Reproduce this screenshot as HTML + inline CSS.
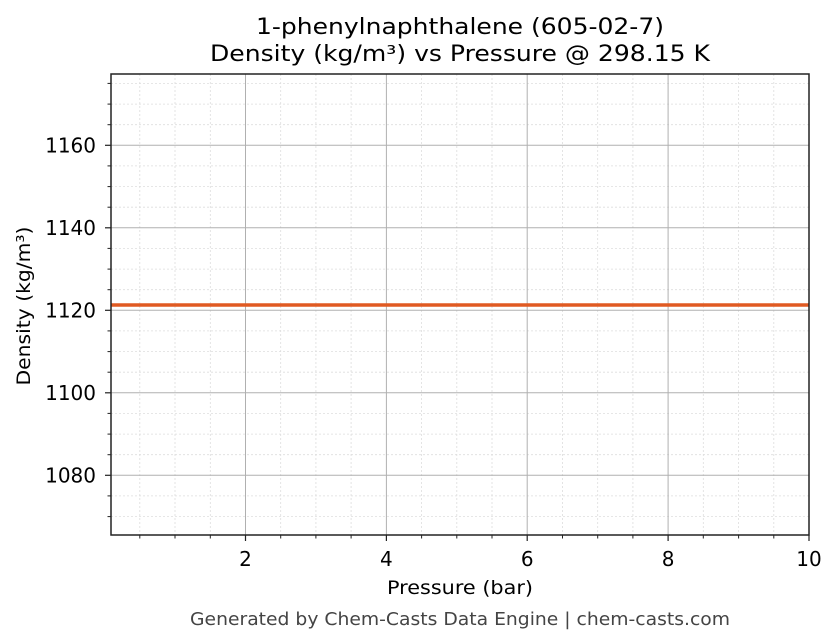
<!DOCTYPE html>
<html><head><meta charset="utf-8"><style>
html,body{margin:0;padding:0;background:#fff;}
svg{display:block;font-family:"DejaVu Sans","Liberation Sans",sans-serif;}
</style></head><body>
<svg width="836" height="644" viewBox="0 0 836 644" xmlns="http://www.w3.org/2000/svg">
<rect width="836" height="644" fill="#fff"/>
<text x="460" y="34" font-size="22" text-anchor="middle" textLength="408" lengthAdjust="spacingAndGlyphs">1-phenylnaphthalene (605-02-7)</text>
<text x="460" y="61" font-size="22" text-anchor="middle" textLength="500" lengthAdjust="spacingAndGlyphs">Density (kg/m³) vs Pressure @ 298.15 K</text>
<g stroke="#ddd" stroke-width="0.8" stroke-dasharray="2,2">
<line x1="139.8" y1="74" x2="139.8" y2="535"/><line x1="175" y1="74" x2="175" y2="535"/><line x1="210.3" y1="74" x2="210.3" y2="535"/>
<line x1="280.7" y1="74" x2="280.7" y2="535"/><line x1="315.9" y1="74" x2="315.9" y2="535"/><line x1="351.1" y1="74" x2="351.1" y2="535"/>
<line x1="421.6" y1="74" x2="421.6" y2="535"/><line x1="456.8" y1="74" x2="456.8" y2="535"/><line x1="492" y1="74" x2="492" y2="535"/>
<line x1="562.5" y1="74" x2="562.5" y2="535"/><line x1="597.7" y1="74" x2="597.7" y2="535"/><line x1="632.9" y1="74" x2="632.9" y2="535"/>
<line x1="703.3" y1="74" x2="703.3" y2="535"/><line x1="738.6" y1="74" x2="738.6" y2="535"/><line x1="773.8" y1="74" x2="773.8" y2="535"/>
<line x1="111" y1="83.4" x2="809" y2="83.4"/><line x1="111" y1="104.1" x2="809" y2="104.1"/><line x1="111" y1="124.7" x2="809" y2="124.7"/>
<line x1="111" y1="165.9" x2="809" y2="165.9"/><line x1="111" y1="186.6" x2="809" y2="186.6"/><line x1="111" y1="207.2" x2="809" y2="207.2"/>
<line x1="111" y1="248.4" x2="809" y2="248.4"/><line x1="111" y1="269.1" x2="809" y2="269.1"/><line x1="111" y1="289.7" x2="809" y2="289.7"/>
<line x1="111" y1="330.9" x2="809" y2="330.9"/><line x1="111" y1="351.6" x2="809" y2="351.6"/><line x1="111" y1="372.2" x2="809" y2="372.2"/>
<line x1="111" y1="413.4" x2="809" y2="413.4"/><line x1="111" y1="434.1" x2="809" y2="434.1"/><line x1="111" y1="454.7" x2="809" y2="454.7"/>
<line x1="111" y1="495.9" x2="809" y2="495.9"/><line x1="111" y1="516.6" x2="809" y2="516.6"/>
</g>
<g stroke="#b0b0b0" stroke-width="1">
<line x1="245.5" y1="74" x2="245.5" y2="535"/><line x1="386.4" y1="74" x2="386.4" y2="535"/><line x1="527.2" y1="74" x2="527.2" y2="535"/><line x1="668.1" y1="74" x2="668.1" y2="535"/>
<line x1="111" y1="145.3" x2="809" y2="145.3"/><line x1="111" y1="227.8" x2="809" y2="227.8"/><line x1="111" y1="310.3" x2="809" y2="310.3"/><line x1="111" y1="392.8" x2="809" y2="392.8"/><line x1="111" y1="475.3" x2="809" y2="475.3"/>
</g>
<line x1="111" y1="305" x2="809" y2="305" stroke="#e05a22" stroke-width="3.5"/>
<rect x="111" y="74" width="698" height="461" fill="none" stroke="#222" stroke-width="1.5"/>
<g stroke="#222" stroke-width="1.2">
<line x1="245.5" y1="535" x2="245.5" y2="541"/><line x1="386.4" y1="535" x2="386.4" y2="541"/><line x1="527.2" y1="535" x2="527.2" y2="541"/><line x1="668.1" y1="535" x2="668.1" y2="541"/><line x1="809" y1="535" x2="809" y2="541"/>
<line x1="105" y1="145.3" x2="111" y2="145.3"/><line x1="105" y1="227.8" x2="111" y2="227.8"/><line x1="105" y1="310.3" x2="111" y2="310.3"/><line x1="105" y1="392.8" x2="111" y2="392.8"/><line x1="105" y1="475.3" x2="111" y2="475.3"/>
</g>
<g stroke="#222" stroke-width="1">
<line x1="139.8" y1="535" x2="139.8" y2="538.5"/><line x1="175" y1="535" x2="175" y2="538.5"/><line x1="210.3" y1="535" x2="210.3" y2="538.5"/>
<line x1="280.7" y1="535" x2="280.7" y2="538.5"/><line x1="315.9" y1="535" x2="315.9" y2="538.5"/><line x1="351.1" y1="535" x2="351.1" y2="538.5"/>
<line x1="421.6" y1="535" x2="421.6" y2="538.5"/><line x1="456.8" y1="535" x2="456.8" y2="538.5"/><line x1="492" y1="535" x2="492" y2="538.5"/>
<line x1="562.5" y1="535" x2="562.5" y2="538.5"/><line x1="597.7" y1="535" x2="597.7" y2="538.5"/><line x1="632.9" y1="535" x2="632.9" y2="538.5"/>
<line x1="703.3" y1="535" x2="703.3" y2="538.5"/><line x1="738.6" y1="535" x2="738.6" y2="538.5"/><line x1="773.8" y1="535" x2="773.8" y2="538.5"/>
<line x1="107.5" y1="83.4" x2="111" y2="83.4"/><line x1="107.5" y1="104.1" x2="111" y2="104.1"/><line x1="107.5" y1="124.7" x2="111" y2="124.7"/>
<line x1="107.5" y1="165.9" x2="111" y2="165.9"/><line x1="107.5" y1="186.6" x2="111" y2="186.6"/><line x1="107.5" y1="207.2" x2="111" y2="207.2"/>
<line x1="107.5" y1="248.4" x2="111" y2="248.4"/><line x1="107.5" y1="269.1" x2="111" y2="269.1"/><line x1="107.5" y1="289.7" x2="111" y2="289.7"/>
<line x1="107.5" y1="330.9" x2="111" y2="330.9"/><line x1="107.5" y1="351.6" x2="111" y2="351.6"/><line x1="107.5" y1="372.2" x2="111" y2="372.2"/>
<line x1="107.5" y1="413.4" x2="111" y2="413.4"/><line x1="107.5" y1="434.1" x2="111" y2="434.1"/><line x1="107.5" y1="454.7" x2="111" y2="454.7"/>
<line x1="107.5" y1="495.9" x2="111" y2="495.9"/><line x1="107.5" y1="516.6" x2="111" y2="516.6"/>
</g>
<g font-size="20" fill="#000">
<g text-anchor="middle">
<text x="245.5" y="566">2</text><text x="386.4" y="566">4</text><text x="527.2" y="566">6</text><text x="668.1" y="566">8</text><text x="809" y="566">10</text>
</g>
<g text-anchor="end">
<text x="96" y="152.5">1160</text><text x="96" y="235">1140</text><text x="96" y="317.5">1120</text><text x="96" y="400">1100</text><text x="96" y="482.5">1080</text>
</g>
</g>
<g font-size="19" fill="#000">
<text x="460" y="594" text-anchor="middle" textLength="146" lengthAdjust="spacingAndGlyphs">Pressure (bar)</text>
<text transform="translate(30,306) rotate(-90)" text-anchor="middle" textLength="159" lengthAdjust="spacingAndGlyphs">Density (kg/m³)</text>
</g>
<text x="460" y="625" font-size="17.5" fill="#444" text-anchor="middle" textLength="540" lengthAdjust="spacingAndGlyphs">Generated by Chem-Casts Data Engine | chem-casts.com</text>
</svg>
</body></html>
